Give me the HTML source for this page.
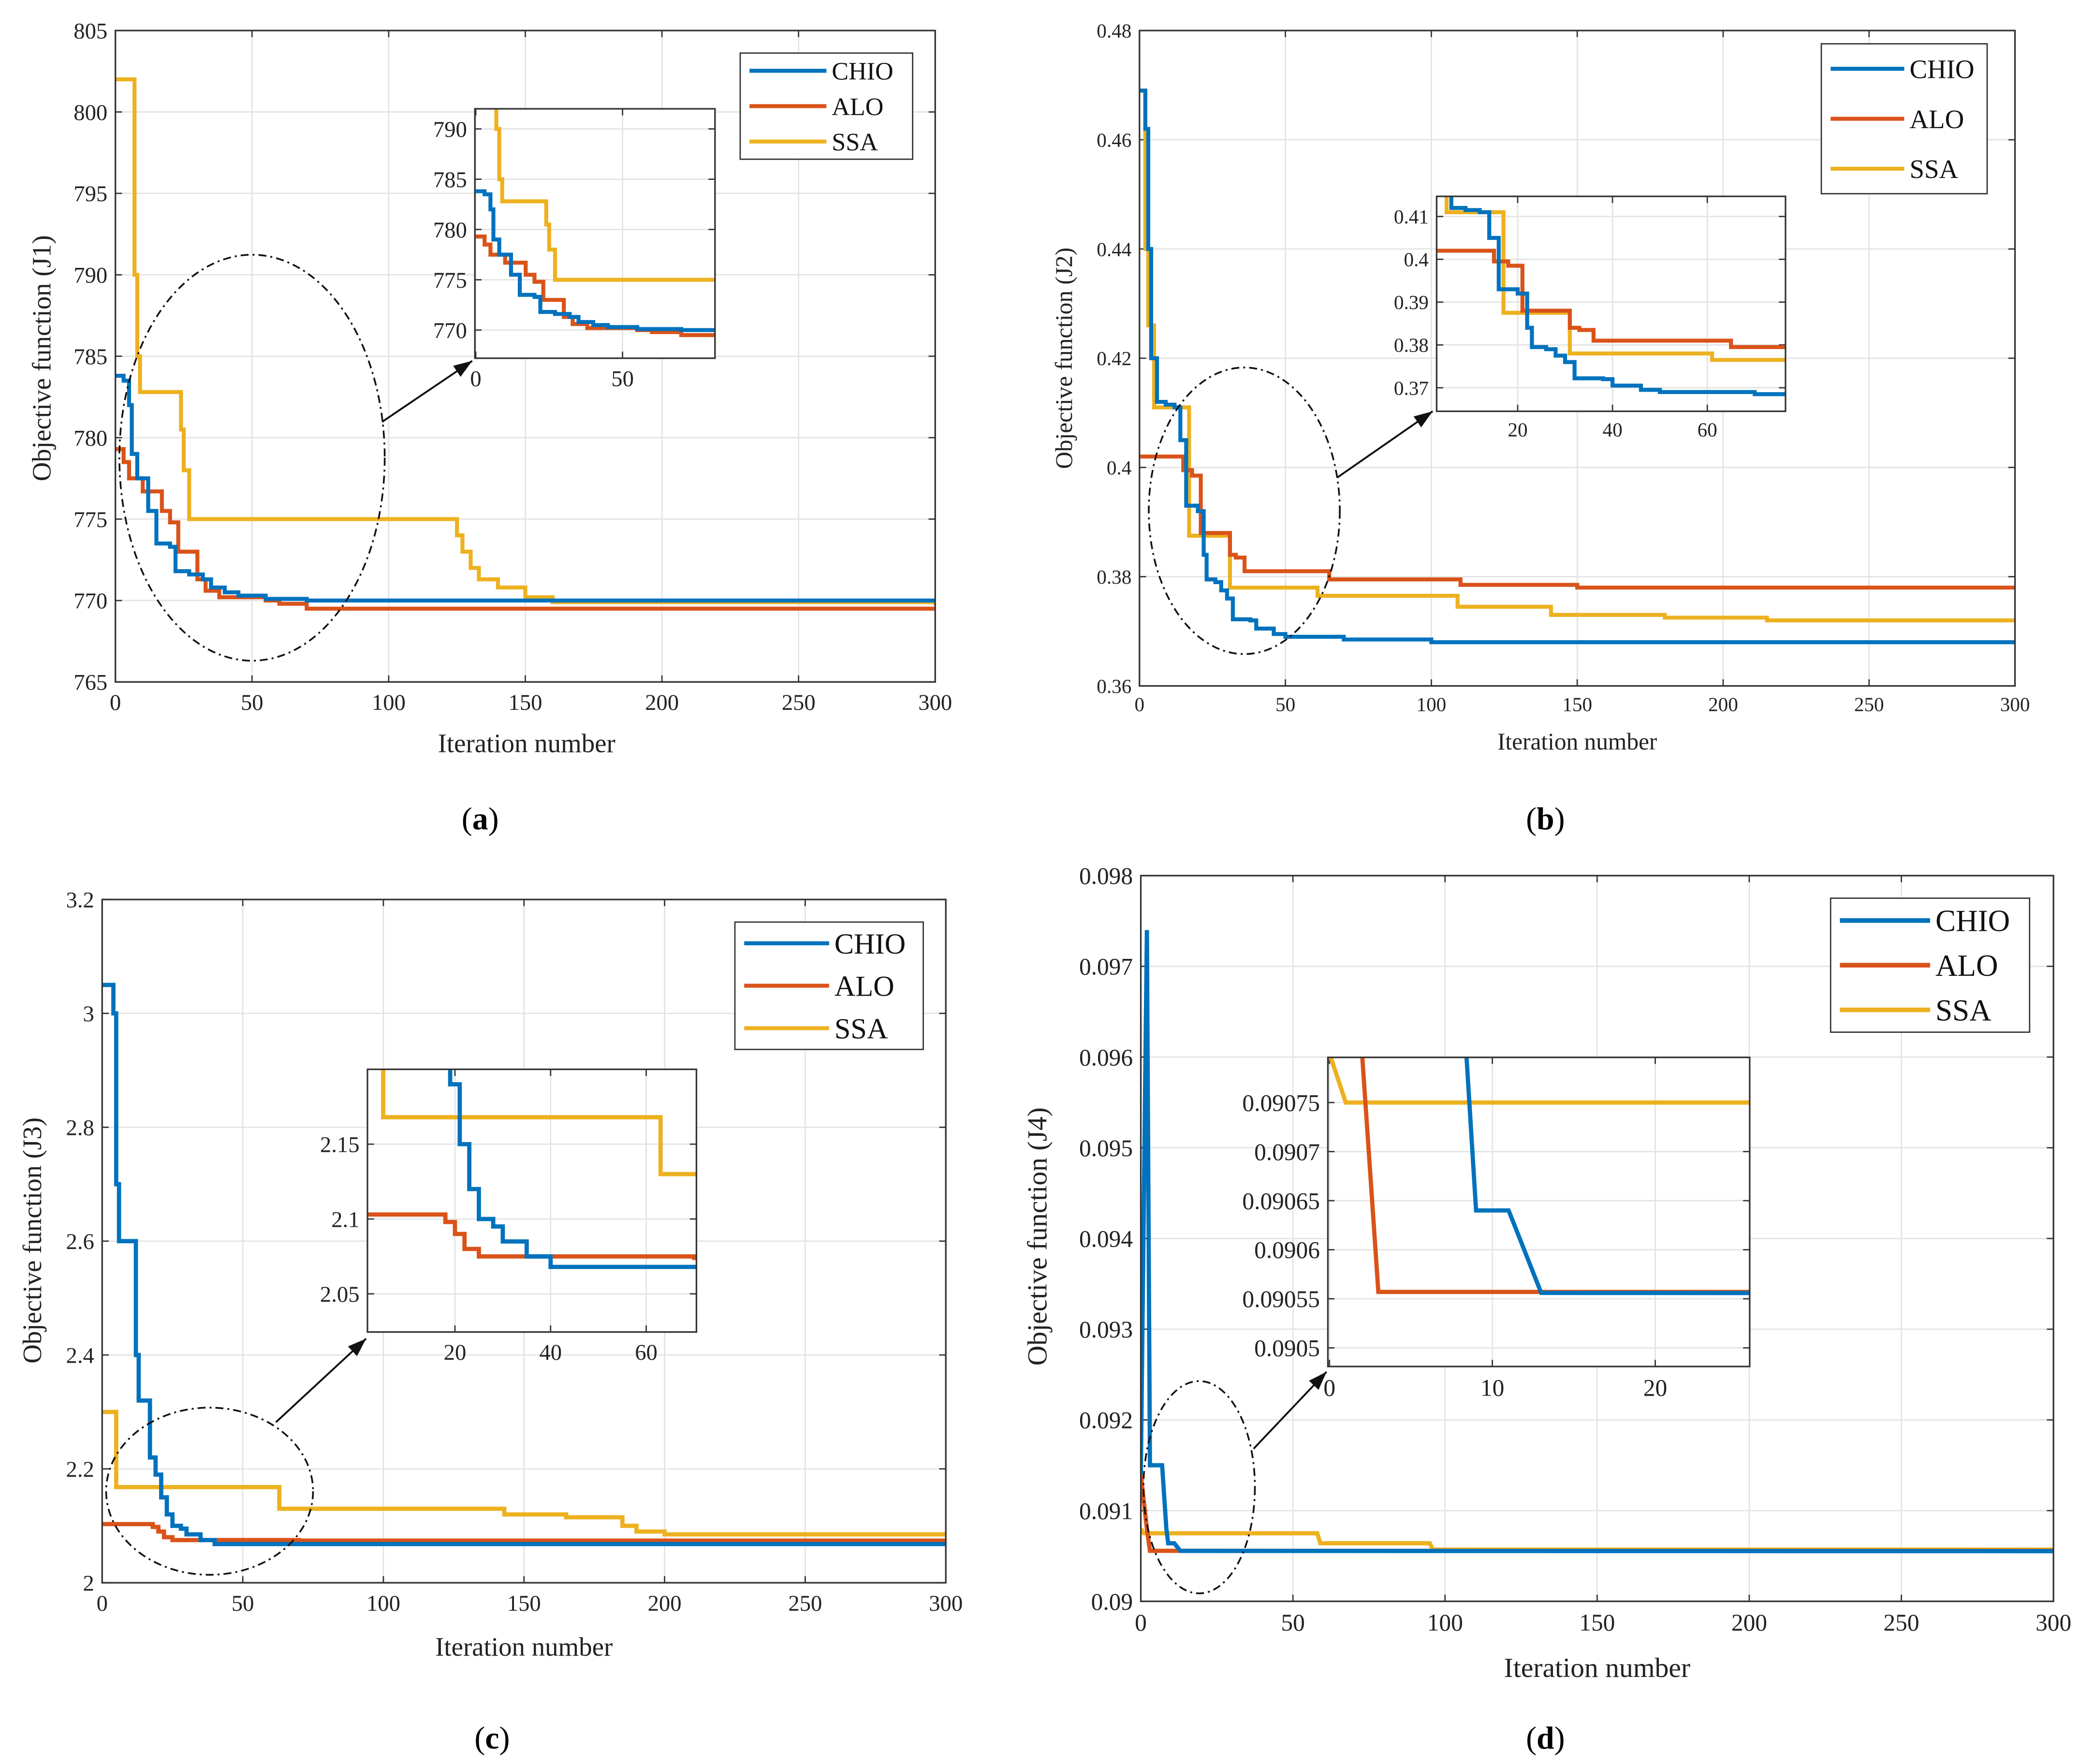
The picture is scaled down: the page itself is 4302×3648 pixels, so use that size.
<!DOCTYPE html>
<html><head><meta charset="utf-8"><style>
html,body{margin:0;padding:0;background:#fff;}
svg{display:block;font-family:"Liberation Serif",serif;}
svg text{font-family:"Liberation Serif",serif;}
</style></head><body>
<svg id="fig" width="4302" height="3648" viewBox="0 0 1568 1329.6" xmlns="http://www.w3.org/2000/svg" font-family="Liberation Serif, serif"></svg>
<script>
// ---- Data (iteration, value) step points ----
const aCHIO=[[0,783.8],[3,783.5],[5,782],[6,779],[8,777.5],[12,775.5],[15,773.5],[20,773.3],[22,771.8],[27,771.6],[32,771.3],[35,770.8],[40,770.5],[45,770.3],[55,770.1],[70,770.0],[300,770.0]];
const aALO=[[0,779.3],[3,778.5],[5,777.5],[10,776.7],[17,775.5],[20,774.8],[23,773.0],[30,771.3],[33,770.6],[38,770.2],[55,770.0],[60,769.8],[70,769.5],[300,769.4]];
const aSSA=[[0,802],[6,802],[7,790],[8,785],[9,782.8],[22,782.8],[24,780.5],[25,778],[27,775],[122,775],[125,774],[127,773],[130,772],[133,771.3],[140,770.8],[150,770.2],[160,769.9],[300,769.7]];
const bCHIO=[[0,0.469],[2,0.462],[3,0.44],[4,0.42],[6,0.412],[9,0.4115],[12,0.411],[14,0.405],[16,0.393],[20,0.392],[22,0.384],[23,0.3795],[26,0.379],[28,0.3775],[30,0.376],[32,0.3722],[38,0.372],[40,0.3705],[46,0.3695],[50,0.369],[70,0.3685],[100,0.368],[300,0.368]];
const bALO=[[0,0.402],[14,0.402],[15,0.3995],[18,0.3985],[21,0.388],[30,0.388],[31,0.384],[33,0.3835],[36,0.381],[60,0.381],[65,0.3795],[110,0.3785],[150,0.378],[300,0.378]];
const bSSA=[[0,0.469],[2,0.44],[3,0.426],[5,0.411],[16,0.411],[17,0.3875],[30,0.3875],[31,0.378],[60,0.378],[61,0.3765],[108,0.3765],[109,0.3745],[140,0.3745],[141,0.373],[180,0.3725],[205,0.3725],[215,0.372],[300,0.372]];
const cCHIO=[[0,3.05],[3,3.05],[4,3.0],[5,2.7],[6,2.6],[10,2.6],[12,2.4],[13,2.32],[16,2.32],[17,2.22],[19,2.19],[21,2.15],[23,2.12],[25,2.1],[28,2.095],[30,2.085],[35,2.075],[40,2.068],[300,2.068]];
const cALO=[[0,2.103],[17,2.103],[18,2.098],[20,2.09],[22,2.08],[25,2.075],[70,2.074],[300,2.073]];
const cSSA=[[0,2.3],[4,2.3],[5,2.168],[62,2.168],[63,2.13],[140,2.13],[143,2.12],[165,2.115],[185,2.1],[190,2.09],[200,2.085],[300,2.085]];
const dCHIO=[[0,0.0914],[2,0.0974],[3,0.0915],[7,0.0915],[8.4,0.0908],[9,0.09064],[11,0.09064],[13,0.090556],[300,0.090553]];
const dALO=[[0,0.0914],[2,0.0908],[3,0.090557],[300,0.090557]];
const dSSA=[[0,0.0908],[1,0.09075],[58,0.09075],[59,0.09064],[95,0.09064],[96,0.09057],[300,0.09057]];
const aYTicks=[765,770,775,780,785,790,795,800,805];
const bYTicks=[0.36,0.38,0.4,0.42,0.44,0.46,0.48];
const cYTicks=[2,2.2,2.4,2.6,2.8,3,3.2];
const dYTicks=[0.09,0.091,0.092,0.093,0.094,0.095,0.096,0.097,0.098];
const xTicks=[0,50,100,150,200,250,300];

const NS="http://www.w3.org/2000/svg";
const svg=document.getElementById('fig');
const FF='"Liberation Serif", serif';
const COL={CHIO:'#0072BD',ALO:'#D95319',SSA:'#EDB120'};
function el(tag,attrs,parent){const e=document.createElementNS(NS,tag);for(const k in attrs)e.setAttribute(k,attrs[k]);(parent||svg).appendChild(e);return e;}
function txt(s,attrs,parent){attrs['font-family']=FF;const e=el('text',attrs,parent);e.textContent=s;return e;}
let clipId=0;
function pathFor(data,sx,sy,step){
  let d='';
  data.forEach((p,i)=>{
    const X=sx(p[0]),Y=sy(p[1]);
    if(i===0)d+='M'+X+' '+Y;
    else if(step)d+='H'+X+'V'+Y;
    else d+='L'+X+' '+Y;
  });
  return d;
}
function axes(c){
  const g=el('g',{});
  
  
  const sx=v=>c.x0+(v-c.xmin)/(c.xmax-c.xmin)*(c.x1-c.x0);
  const sy=v=>c.y1-(v-c.ymin)/(c.ymax-c.ymin)*(c.y1-c.y0);
  el('rect',{x:c.x0,y:c.y0,width:c.x1-c.x0,height:c.y1-c.y0,fill:'#fff'},g);
  c.xt.forEach(t=>{const X=sx(t);if(X<c.x0-0.5||X>c.x1+0.5)return;
    el('line',{x1:X,x2:X,y1:c.y0,y2:c.y1,stroke:'#e3e3e3','stroke-width':1},g);
    el('line',{x1:X,x2:X,y1:c.y1,y2:c.y1-5,stroke:'#333','stroke-width':1},g);
    el('line',{x1:X,x2:X,y1:c.y0,y2:c.y0+5,stroke:'#333','stroke-width':1},g);
    const t2=txt(String(t),{x:X,y:c.y1+c.fs+4,'font-size':c.fs,'text-anchor':'middle',fill:'#222'},g);
    });
  c.yt.forEach((t,i)=>{const Y=sy(t);if(Y<c.y0-0.5||Y>c.y1+0.5)return;
    el('line',{x1:c.x0,x2:c.x1,y1:Y,y2:Y,stroke:'#e3e3e3','stroke-width':1},g);
    el('line',{x1:c.x0,x2:c.x0+5,y1:Y,y2:Y,stroke:'#333','stroke-width':1},g);
    el('line',{x1:c.x1,x2:c.x1-5,y1:Y,y2:Y,stroke:'#333','stroke-width':1},g);
    const lab=c.ylab?c.ylab[i]:String(t);
    const t2=txt(lab,{x:c.x0-6,y:Y+c.fs*0.35,'font-size':c.fs,'text-anchor':'end',fill:'#222'},g);
    });
  const id='clip'+(clipId++);
  const cp=el('clipPath',{id:id},g);el('rect',{x:c.x0,y:c.y0,width:c.x1-c.x0,height:c.y1-c.y0},cp);
  const lg=el('g',{'clip-path':'url(#'+id+')'},g);
  c.series.forEach(s=>{
    const p=el('path',{d:pathFor(s[1],sx,sy,c.step),fill:'none',stroke:COL[s[0]],'stroke-width':c.lw,'stroke-linejoin':'miter'},lg);
    
    
  });
  el('rect',{x:c.x0,y:c.y0,width:c.x1-c.x0,height:c.y1-c.y0,fill:'none',stroke:'#333','stroke-width':1.2},g);
  return g;
}
function legend(x,y,w,h,fs,lw){
  const g=el('g',{});
  
  
  el('rect',{x:x,y:y,width:w,height:h,fill:'#fff',stroke:'#333','stroke-width':1},g);
  ['CHIO','ALO','SSA'].forEach((n,i)=>{
    const yy=y+h*(i+0.5)/3;
    el('line',{x1:x+7,x2:x+w*0.5,y1:yy,y2:yy,stroke:COL[n],'stroke-width':lw},g);
    const t=txt(n,{x:x+w*0.5+4,y:yy+fs*0.35,'font-size':fs,fill:'#111'},g);
    
    
  });
}
function extras(o){
  const e=el('ellipse',{cx:o.ex,cy:o.ey,rx:o.erx,ry:o.ery,fill:'none',stroke:'#111','stroke-width':1.3,'stroke-dasharray':'6 3 1.5 3'});
  
  const [x1,y1,x2,y2]=o.arrow;
  const a=el('line',{x1:x1,y1:y1,x2:x2,y2:y2,stroke:'#111','stroke-width':1.4});
  
  const ang=Math.atan2(y2-y1,x2-x1),L=14,W=5;
  const bx=x2-L*Math.cos(ang),by=y2-L*Math.sin(ang);
  el('polygon',{points:`${x2},${y2} ${bx-W*Math.sin(ang)},${by+W*Math.cos(ang)} ${bx+W*Math.sin(ang)},${by-W*Math.cos(ang)}`,fill:'#111'});
  let t=txt('Iteration number',{x:o.xl[0],y:o.xl[1],'font-size':o.lfs,'text-anchor':'middle',fill:'#222'});
  
  t=txt(o.ytitle,{x:0,y:0,'font-size':o.lfs,'text-anchor':'middle',fill:'#222',transform:`translate(${o.yl[0]},${o.yl[1]}) rotate(-90)`});
  
  t=txt('',{x:o.cap[0],y:o.cap[1],'font-size':24,'text-anchor':'middle',fill:'#000'});
  const s1=el('tspan',{},t);s1.textContent='(';
  const s2=el('tspan',{'font-weight':'bold'},t);s2.textContent=o.letter;
  const s3=el('tspan',{},t);s3.textContent=')';
  
}
// Panel a
axes({name:'chart-a',x0:87,x1:705,y0:23,y1:514,xmin:0,xmax:300,ymin:765,ymax:805,xt:xTicks,yt:aYTicks,fs:17,lw:3,step:true,series:[['SSA',aSSA],['ALO',aALO],['CHIO',aCHIO]]});
legend(558,40,130,80,19,3);
extras({ex:190,ey:345,erx:100,ery:153,arrow:[288,318,356,272],xl:[397,567],yl:[38,270],ytitle:'Objective function (J1)',lfs:20,cap:[362,625],letter:'a'});
axes({name:'inset-a',x0:358,x1:539,y0:82,y1:270,xmin:-0.3,xmax:81.5,ymin:767.2,ymax:792,xt:[0,50],yt:[770,775,780,785,790],fs:17,lw:3,step:true,series:[['SSA',aSSA],['ALO',aALO],['CHIO',aCHIO]]});
// Panel b
axes({name:'chart-b',x0:859,x1:1519,y0:23,y1:517,xmin:0,xmax:300,ymin:0.36,ymax:0.48,xt:xTicks,yt:bYTicks,ylab:['0.36','0.38','0.4','0.42','0.44','0.46','0.48'],fs:15,lw:3,step:true,series:[['SSA',bSSA],['ALO',bALO],['CHIO',bCHIO]]});
legend(1373,33,125,113,20,3);
extras({ex:938,ey:385,erx:72,ery:108,arrow:[1008,360,1080,310],xl:[1189,565],yl:[808,270],ytitle:'Objective function (J2)',lfs:18,cap:[1165,625],letter:'b'});
axes({name:'inset-b',x0:1083,x1:1346,y0:148,y1:310,xmin:2.9,xmax:76.5,ymin:0.3645,ymax:0.4147,xt:[20,40,60],yt:[0.37,0.38,0.39,0.4,0.41],ylab:['0.37','0.38','0.39','0.4','0.41'],fs:15,lw:3,step:true,series:[['SSA',bSSA],['ALO',bALO],['CHIO',bCHIO]]});
// Panel c
axes({name:'chart-c',x0:77,x1:713,y0:678,y1:1193,xmin:0,xmax:300,ymin:2,ymax:3.2,xt:xTicks,yt:cYTicks,ylab:['2','2.2','2.4','2.6','2.8','3','3.2'],fs:17,lw:3.2,step:true,series:[['SSA',cSSA],['ALO',cALO],['CHIO',cCHIO]]});
legend(554,695,142,96,22,3);
extras({ex:158,ey:1124,erx:78,ery:63,arrow:[208,1072,276,1009],xl:[395,1248],yl:[31,935],ytitle:'Objective function (J3)',lfs:20,cap:[371,1318],letter:'c'});
axes({name:'inset-c',x0:277,x1:525,y0:806,y1:1004,xmin:1.7,xmax:70.5,ymin:2.0245,ymax:2.2,xt:[20,40,60],yt:[2.05,2.1,2.15],ylab:['2.05','2.1','2.15'],fs:17,lw:3.2,step:true,series:[['SSA',cSSA],['ALO',cALO],['CHIO',cCHIO]]});
// Panel d
axes({name:'chart-d',x0:860,x1:1548,y0:660,y1:1207,xmin:0,xmax:300,ymin:0.09,ymax:0.098,xt:xTicks,yt:dYTicks,fs:18,lw:3.2,step:false,series:[['SSA',dSSA],['ALO',dALO],['CHIO',dCHIO]]});
legend(1380,677,150,101,23,3.5);
extras({ex:904,ey:1121,erx:42,ery:80,arrow:[945,1092,1000,1034],xl:[1204,1264],yl:[789,932],ytitle:'Objective function (J4)',lfs:21,cap:[1165,1318],letter:'d'});
axes({name:'inset-d',x0:1001,x1:1319,y0:797,y1:1030,xmin:-0.1,xmax:25.8,ymin:0.090481,ymax:0.090796,xt:[0,10,20],yt:[0.0905,0.09055,0.0906,0.09065,0.0907,0.09075],ylab:['0.0905','0.09055','0.0906','0.09065','0.0907','0.09075'],fs:18,lw:3.2,step:false,series:[['SSA',dSSA],['ALO',dALO],['CHIO',dCHIO]]});
</script>
</body></html>
